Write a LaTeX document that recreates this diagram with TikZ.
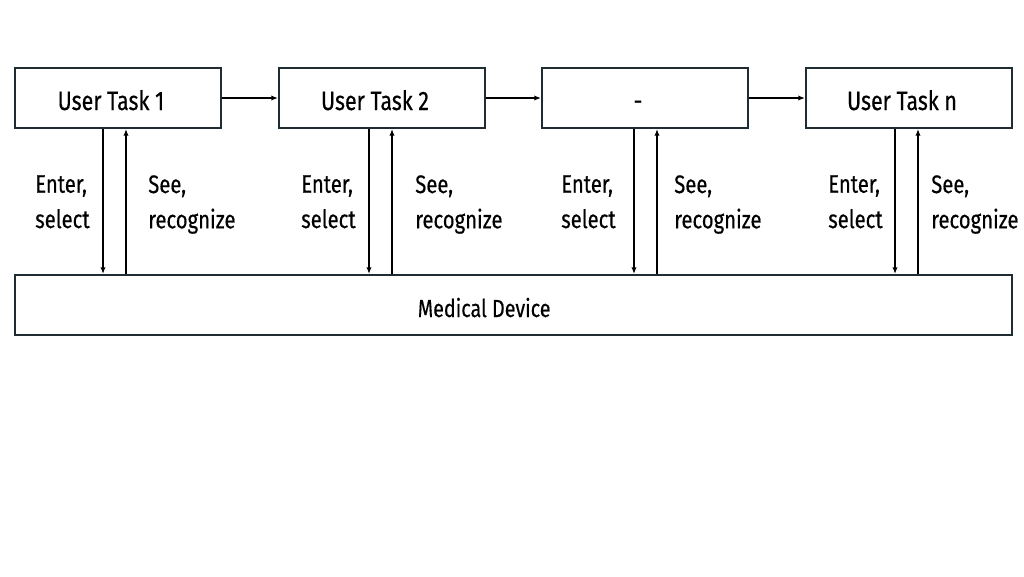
\documentclass[tikz,border=0pt]{standalone}
\usepackage{fontspec}
\setmainfont{Fira Sans}[FakeStretch=0.8, FakeBold=0.4]
\usetikzlibrary{arrows.meta}
\definecolor{boxline}{HTML}{1F2D33}
\begin{document}
\begin{tikzpicture}[
        x = 0.75pt, y = -0.75pt,
        task/.style = {draw = boxline, line width = 1.5pt, minimum width = 154.5pt, minimum height = 45pt, inner sep = 0pt,
            text height = 18pt, text depth = 0pt, font = \fontsize{20}{22}\selectfont, execute at begin node = \hspace*{-10.5pt}},
        lbl/.style = {align = left, anchor = north west, inner sep = 0pt, font = \fontsize{19}{26.5}\selectfont},
        flow/.style = {-{Latex[length = 5pt, width = 4pt]}, line width = 1.1pt}
    ]
        \useasboundingbox (0,0) rectangle (1024,576);

        \node[task] (t1) at (118,98) {User Task 1};
        \node[task] (t2) at (382,98) {User Task 2};
        \node[task] (t3) at (645,98) {-};
        \node[task] (t4) at (909,98) {User Task n};
        \node[task, minimum width = 747.75pt, font = \fontsize{18.5}{22}\selectfont, execute at begin node = \hspace*{-33.5pt}] (dev) at (513.5,305) {Medical Device};

        \draw[flow] (t1) -- (t2);
        \draw[flow] (t2) -- (t3);
        \draw[flow] (t3) -- (t4);

        \foreach \t/\dn/\up/\ex/\sx in {t1/-15/8/35/148, t2/-13/10/301/415, t3/-11/12/561/674, t4/-14/9/828/931}{
            \draw[flow] ([xshift = \dn*0.75pt]\t.south) -- ([xshift = \dn*0.75pt]\t.south |- dev.north);
            \draw[flow] ([xshift = \up*0.75pt]\t.south |- dev.north) -- ([xshift = \up*0.75pt]\t.south);
            \node[lbl] (\t-enter) at (\ex,175) {Enter,\\select};
            \node[lbl] (\t-see) at (\sx,175) {See,\\recognize};
        }
    \end{tikzpicture}
\end{document}
